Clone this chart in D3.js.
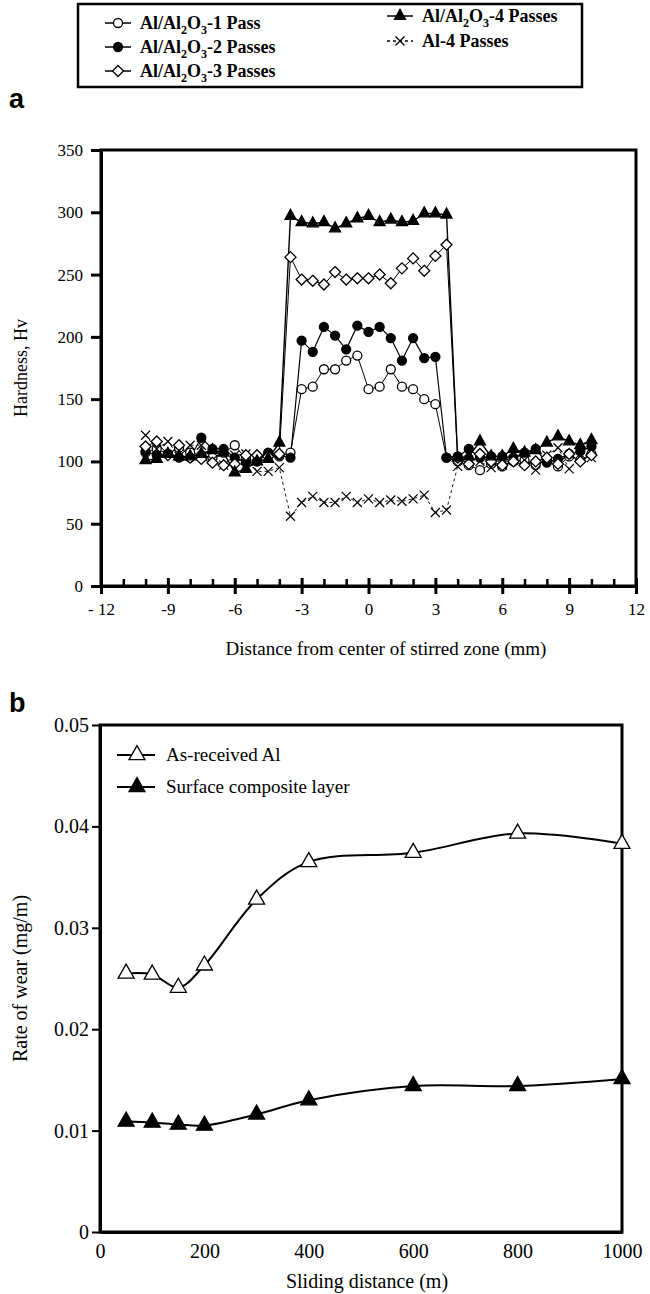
<!DOCTYPE html>
<html><head><meta charset="utf-8">
<script src="https://cdn.jsdelivr.net/npm/d3@7"></script>
<style>body{margin:0;background:#fff}svg{display:block}</style>
</head><body>
<svg id="c" width="650" height="1294"></svg>
<script>
// ---------- Chart a data ----------
const distance = [-10,-9.5,-9,-8.5,-8,-7.5,-7,-6.5,-6,-5.5,-5,-4.5,-4,-3.5,-3,-2.5,-2,-1.5,-1,-0.5,0,0.5,1,1.5,2,2.5,3,3.5,4,4.5,5,5.5,6,6.5,7,7.5,8,8.5,9,9.5,10];
const pass1 = [107,110,106,111,107,105,103,107,113,102,100,106,104, 107,158,160,174,174,181,185,158,160,174,160,158,150,146,103, 100,97,93,98,96,100,101,97,101,96,104,101,106];
const pass2 = [108,105,106,103,103,119,110,110,103,99,100,107,105, 103,197,188,208,201,190,209,204,208,199,181,199,183,184,103, 104,110,103,104,104,103,107,110,99,102,106,108,112];
const pass3 = [112,116,105,113,103,102,99,97,98,105,105,104,106, 264,246,245,242,252,246,247,247,250,243,255,263,253,265,274, 103,98,106,100,97,100,97,100,103,98,106,100,105];
const pass4 = [101,102,106,104,104,106,109,107,91,94,100,102,115, 297,292,291,292,287,291,295,297,292,294,292,293,299,299,298, 103,104,116,104,104,110,107,109,115,120,116,113,117];
const al4 = [121,110,116,104,113,113,101,97,105,106,92,92,95, 56,67,72,67,67,72,67,70,67,69,68,70,73,59,61, 96,101,100,95,97,101,101,93,105,111,94,104,103];
const hardTicks = [0,50,100,150,200,250,300,350];
const distMajorTicks = [-12,-9,-6,-3,0,3,6,9,12];
const distTickLabels = ["- 12","-9","-6","-3","0","3","6","9","12"];
const distMinorTicks = [-11,-10,-8,-7,-5,-4,-2,-1,1,2,4,5,7,8,10,11];

// ---------- Chart b data ----------
const slidingDistance = [50,100,150,200,300,400,600,800,1000];
const asReceived = [0.0255,0.0254,0.0241,0.0263,0.0328,0.0365,0.0374,0.0393,0.0383];
const composite = [0.0109,0.0108,0.0106,0.0105,0.0116,0.0130,0.0144,0.0144,0.0151];
const wearTicks = [0,0.01,0.02,0.03,0.04,0.05];
const wearTickLabels = ["0","0.01","0.02","0.03","0.04","0.05"];
const slideTicks = [0,200,400,600,800,1000];
const slideTickLabels = ["0","200","400","600","800","1000"];

const svg = d3.select("#c");
const SERIF = "'Liberation Serif','Times New Roman',serif";
const SANS = "'Liberation Sans',Arial,sans-serif";

function circlePath(r){return `M${-r},0A${r},${r} 0 1,0 ${r},0A${r},${r} 0 1,0 ${-r},0Z`;}
function diamondPath(r){return `M0,${-r}L${r},0L0,${r}L${-r},0Z`;}
function triPath(w,h){return `M0,${-h*2/3}L${w/2},${h/3}L${-w/2},${h/3}Z`;}
function xPath(s){return `M${-s},${-s}L${s},${s}M${-s},${s}L${s},${-s}`;}

// ================= Chart a =================
const xA = d3.scaleLinear().domain([-12,12]).range([101,636]);
const yA = d3.scaleLinear().domain([0,350]).range([586,150]);
const gA = svg.append("g");
gA.append("rect").attr("x",xA(-12)).attr("y",yA(350)).attr("width",xA(12)-xA(-12)).attr("height",yA(0)-yA(350))
  .attr("fill","none").attr("stroke","#000").attr("stroke-width",3);

const yAxA = gA.append("g").attr("transform",`translate(${xA(-12)},0)`)
  .call(d3.axisLeft(yA).tickValues(hardTicks).tickSize(10).tickSizeOuter(0).tickPadding(8));
yAxA.select(".domain").attr("stroke-width",3);
yAxA.selectAll(".tick line").attr("stroke-width",3);
yAxA.selectAll(".tick text").attr("font-family",SERIF).attr("font-size",17).attr("fill","#000");

const xMinA = gA.append("g").attr("transform",`translate(0,${yA(0)})`)
  .call(d3.axisBottom(xA).tickValues(distMinorTicks).tickSize(-7).tickSizeOuter(0).tickFormat(""));
xMinA.select(".domain").remove();
xMinA.selectAll(".tick line").attr("stroke-width",2.5);
const xAxA = gA.append("g").attr("transform",`translate(0,${yA(0)})`)
  .call(d3.axisBottom(xA).tickValues(distMajorTicks).tickSize(8).tickSizeOuter(0).tickPadding(9)
    .tickFormat((d,i)=>distTickLabels[i]));
xAxA.select(".domain").attr("stroke-width",3);
xAxA.selectAll(".tick line").attr("y1",-8).attr("stroke-width",3);
xAxA.selectAll(".tick text").attr("font-family",SERIF).attr("font-size",17).attr("fill","#000");

gA.append("text").attr("x",386).attr("y",655).attr("text-anchor","middle")
  .attr("font-family",SERIF).attr("font-size",19).text("Distance from center of stirred zone (mm)");
gA.append("text").attr("transform",`translate(27,${(yA(0)+yA(350))/2}) rotate(-90)`).attr("text-anchor","middle")
  .attr("font-family",SERIF).attr("font-size",18).text("Hardness, Hv");
svg.append("text").attr("x",9).attr("y",108).attr("font-family",SANS).attr("font-weight","bold").attr("font-size",27).text("a");

const seriesA = [
  {vals:pass1, marker:"circle", fill:"#fff", dash:null, lw:1},
  {vals:al4, marker:"x", fill:"none", dash:"3,3", lw:0.9},
  {vals:pass2, marker:"circle", fill:"#000", dash:null, lw:1.2},
  {vals:pass3, marker:"diamond", fill:"#fff", dash:null, lw:1},
  {vals:pass4, marker:"triangle", fill:"#000", dash:null, lw:1.4}
];
function markerPathA(m){
  if(m==="circle") return circlePath(4.5);
  if(m==="diamond") return diamondPath(5.5);
  if(m==="triangle") return triPath(11,10);
  return xPath(4.5);
}
const lineA = d3.line().x((d,i)=>xA(distance[i])).y(d=>yA(d));
seriesA.forEach(s=>{
  gA.append("path").attr("d",lineA(s.vals)).attr("fill","none").attr("stroke","#000")
    .attr("stroke-width",s.lw).attr("stroke-dasharray",s.dash);
});
seriesA.forEach(s=>{
  gA.append("g").selectAll("path").data(s.vals).join("path")
    .attr("transform",(d,i)=>`translate(${xA(distance[i])},${yA(d)})`)
    .attr("d",markerPathA(s.marker))
    .attr("fill",s.marker==="x"?"none":s.fill).attr("stroke","#000").attr("stroke-width",s.marker==="x"?1.2:1.3);
});

// legend a
const lg = svg.append("g");
lg.append("rect").attr("x",78).attr("y",4).attr("width",504).attr("height",83)
  .attr("fill","#fff").attr("stroke","#000").attr("stroke-width",2.5);
const legItems = [
  {x:118,y:23,marker:"circle",fill:"#fff",dash:null,parts:["Al/Al","2","O","3","-1 Pass"]},
  {x:118,y:47,marker:"circle",fill:"#000",dash:null,parts:["Al/Al","2","O","3","-2 Passes"]},
  {x:118,y:71,marker:"diamond",fill:"#fff",dash:null,parts:["Al/Al","2","O","3","-3 Passes"]},
  {x:400,y:16,marker:"triangle",fill:"#000",dash:null,parts:["Al/Al","2","O","3","-4 Passes"]},
  {x:400,y:41,marker:"x",fill:"none",dash:"4,3",parts:["Al-4 Passes"]}
];
legItems.forEach(it=>{
  lg.append("line").attr("x1",it.x-13).attr("x2",it.x+13).attr("y1",it.y).attr("y2",it.y)
    .attr("stroke","#000").attr("stroke-width",1.5).attr("stroke-dasharray",it.dash?"3,3":null);
  lg.append("path").attr("transform",`translate(${it.x},${it.y})`).attr("d",markerPathA(it.marker))
    .attr("fill",it.marker==="x"?"none":it.fill).attr("stroke","#000").attr("stroke-width",1.3);
  const t = lg.append("text").attr("x",it.x+22).attr("y",it.y+6).attr("font-family",SERIF)
    .attr("font-weight","bold").attr("font-size",18);
  if(it.parts.length===1){t.text(it.parts[0]);}
  else{
    t.append("tspan").text(it.parts[0]);
    t.append("tspan").attr("dy",5).attr("font-size",12).text(it.parts[1]);
    t.append("tspan").attr("dy",-5).text(it.parts[2]);
    t.append("tspan").attr("dy",5).attr("font-size",12).text(it.parts[3]);
    t.append("tspan").attr("dy",-5).text(it.parts[4]);
  }
});

// ================= Chart b =================
const xB = d3.scaleLinear().domain([0,1000]).range([100,622]);
const yB = d3.scaleLinear().domain([0,0.05]).range([1232,725]);
const gB = svg.append("g");
gB.append("rect").attr("x",xB(0)).attr("y",yB(0.05)).attr("width",xB(1000)-xB(0)).attr("height",yB(0)-yB(0.05))
  .attr("fill","none").attr("stroke","#000").attr("stroke-width",3);
const yAxB = gB.append("g").attr("transform",`translate(${xB(0)},0)`)
  .call(d3.axisLeft(yB).tickValues(wearTicks).tickSize(8).tickSizeOuter(0).tickPadding(3)
    .tickFormat((d,i)=>wearTickLabels[i]));
yAxB.select(".domain").attr("stroke-width",3);
yAxB.selectAll(".tick line").attr("stroke-width",2);
yAxB.selectAll(".tick text").attr("font-family",SERIF).attr("font-size",20).attr("fill","#000");
const xAxB = gB.append("g").attr("transform",`translate(0,${yB(0)})`)
  .call(d3.axisBottom(xB).tickValues(slideTicks).tickSize(0).tickSizeOuter(0).tickPadding(12)
    .tickFormat((d,i)=>slideTickLabels[i]));
xAxB.select(".domain").attr("stroke-width",3);
xAxB.selectAll(".tick text").attr("font-family",SERIF).attr("font-size",20).attr("fill","#000");
gB.append("text").attr("x",367).attr("y",1288).attr("text-anchor","middle")
  .attr("font-family",SERIF).attr("font-size",20).text("Sliding distance (m)");
gB.append("text").attr("transform",`translate(27,${(yB(0)+yB(0.05))/2}) rotate(-90)`).attr("text-anchor","middle")
  .attr("font-family",SERIF).attr("font-size",20).text("Rate of wear (mg/m)");
svg.append("text").attr("x",9).attr("y",712).attr("font-family",SANS).attr("font-weight","bold").attr("font-size",27).text("b");

const lineB = d3.line().curve(d3.curveCatmullRom.alpha(0.5)).x((d,i)=>xB(slidingDistance[i])).y(d=>yB(d));
[{vals:asReceived,fill:"#fff"},{vals:composite,fill:"#000"}].forEach(s=>{
  gB.append("path").attr("d",lineB(s.vals)).attr("fill","none").attr("stroke","#000").attr("stroke-width",2);
  gB.append("g").selectAll("path").data(s.vals).join("path")
    .attr("transform",(d,i)=>`translate(${xB(slidingDistance[i])},${yB(d)})`)
    .attr("d",triPath(16,14)).attr("fill",s.fill).attr("stroke","#000").attr("stroke-width",1.3);
});
[{y:755,fill:"#fff",label:"As-received Al"},{y:787,fill:"#000",label:"Surface composite layer"}].forEach(it=>{
  gB.append("line").attr("x1",117).attr("x2",155).attr("y1",it.y).attr("y2",it.y).attr("stroke","#000").attr("stroke-width",2);
  gB.append("path").attr("transform",`translate(137,${it.y})`).attr("d",triPath(16,14))
    .attr("fill",it.fill).attr("stroke","#000").attr("stroke-width",1.3);
  gB.append("text").attr("x",166).attr("y",it.y+6).attr("font-family",SERIF).attr("font-size",19).text(it.label);
});
</script>
</body></html>
